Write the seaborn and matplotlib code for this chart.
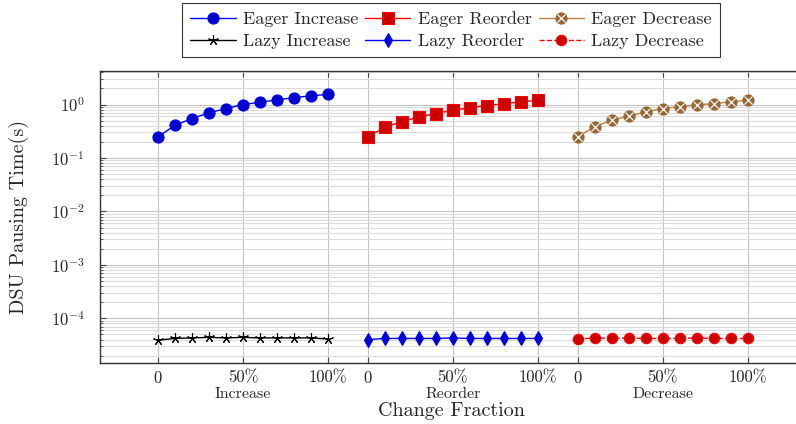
import matplotlib
matplotlib.use('Agg')
import matplotlib.pyplot as plt
import matplotlib.ticker as mticker
from matplotlib.transforms import blended_transform_factory
import pandas as pd
import seaborn as sns

# change fraction in percent, same for every group
fractions = [0, 10, 20, 30, 40, 50, 60, 70, 80, 90, 100]
groups = ['Increase', 'Reorder', 'Decrease']
tick_labels = ['0', '50%', '100%']

# pausing time in seconds
eager_increase = [0.248, 0.409, 0.546, 0.698, 0.841, 1.00, 1.10, 1.22, 1.34, 1.46, 1.54]
eager_reorder = [0.248, 0.375, 0.480, 0.578, 0.678, 0.782, 0.867, 0.957, 1.03, 1.12, 1.20]
eager_decrease = [0.248, 0.386, 0.508, 0.604, 0.730, 0.841, 0.906, 0.986, 1.04, 1.12, 1.20]
lazy_increase = [3.9e-5, 4.2e-5, 4.3e-5, 4.4e-5, 4.3e-5, 4.4e-5, 4.3e-5, 4.3e-5, 4.3e-5, 4.3e-5, 4.1e-5]
lazy_reorder = [4.0e-5, 4.2e-5, 4.2e-5, 4.2e-5, 4.2e-5, 4.3e-5, 4.2e-5, 4.2e-5, 4.2e-5, 4.2e-5, 4.2e-5]
lazy_decrease = [4.1e-5, 4.3e-5, 4.2e-5, 4.3e-5, 4.2e-5, 4.2e-5, 4.2e-5, 4.3e-5, 4.2e-5, 4.2e-5, 4.2e-5]

group_gap = 123.5  # distance between group origins, in x units

sns.set_theme(style='ticks')
plt.rcParams['font.family'] = 'serif'
plt.rcParams['font.serif'] = ['cmr10', 'DejaVu Serif']
plt.rcParams['mathtext.fontset'] = 'cm'
plt.rcParams['axes.formatter.use_mathtext'] = True
plt.rcParams['axes.unicode_minus'] = True

fig = plt.figure(figsize=(7.96, 4.24), dpi=100)
ax = fig.add_axes([100 / 796, (424 - 363.3) / 424, 702 / 796, 292.6 / 424])


def xs(g):
    return [f + g * group_gap for f in fractions]


series = [
    ('Eager Increase', eager_increase, 0, dict(color='#0000ff', marker='o', markersize=8,
                                              markerfacecolor='#0000cc', markeredgecolor='#0000ff')),
    ('Lazy Increase', lazy_increase, 0, dict(color='black', marker=(5, 2, 0), markersize=7.5,
                                            markeredgewidth=0.8, markeredgecolor='black')),
    ('Eager Reorder', eager_reorder, 1, dict(color='#ff0000', marker='s', markersize=8,
                                            markerfacecolor='#cc0000', markeredgecolor='#ff0000')),
    ('Lazy Reorder', lazy_reorder, 1, dict(color='#0000ff', marker='d', markersize=7,
                                          markerfacecolor='#0000cc', markeredgecolor='#0000ff')),
    ('Eager Decrease', eager_decrease, 2, dict(color='#bf8040', marker='o', markersize=8,
                                              markerfacecolor='#996633', markeredgecolor='#996633')),
    ('Lazy Decrease', lazy_decrease, 2, dict(color='#ff0000', marker='o', markersize=7.5, linestyle='--',
                                            markerfacecolor='#cc0000', markeredgecolor='#ff0000')),
]

handles = []
for name, vals, g, style in series:
    df = pd.DataFrame({'x': xs(g), 'y': vals})
    sns.lineplot(data=df, x='x', y='y', ax=ax, linewidth=1.0, markeredgewidth=style.pop('markeredgewidth', 0.8),
                 label=name, legend=False, **style)
    line = ax.lines[-1]
    if name == 'Eager Decrease':
        # pgfplots otimes*: cross drawn inside the filled circle
        sns.lineplot(data=df, x='x', y='y', ax=ax, linestyle='', marker='x', markersize=5.5,
                     markeredgewidth=0.9, color='#5e3b1c', legend=False)
        handles.append((line, ax.lines[-1]))
    else:
        handles.append(line)

ax.set_yscale('log')
ax.set_ylim(1.44e-5, 4.29)
ax.set_xlim(-34.1, 379.0)

major_x = [g * group_gap + v for g in range(3) for v in (0, 50, 100)]
ax.set_xticks(major_x)
ax.set_xticklabels(tick_labels * 3, fontsize=12)
ax.yaxis.set_major_locator(mticker.LogLocator(base=10, numticks=20))
ax.yaxis.set_minor_locator(mticker.LogLocator(base=10, subs=range(2, 10), numticks=20))
ax.yaxis.set_minor_formatter(mticker.NullFormatter())
ax.tick_params(axis='y', which='major', labelsize=12)

ax.grid(True, which='major', axis='both', color='#c4c4c4', linewidth=0.8)
ax.grid(True, which='minor', axis='y', color='#dcdcdc', linewidth=0.8)
ax.set_axisbelow(True)

ax.tick_params(which='both', direction='in', top=True, right=True, color='#444444')
ax.tick_params(which='major', length=4, width=0.8)
ax.tick_params(which='minor', length=2.5, width=0.6)
ax.tick_params(axis='x', which='major', pad=5)
ax.tick_params(axis='y', which='major', pad=11)
ax.tick_params(axis='x', which='minor', bottom=False, top=False)

for sp in ax.spines.values():
    sp.set_color('#333333')
    sp.set_linewidth(1.0)

trans = blended_transform_factory(ax.transData, ax.transAxes)
for g, name in enumerate(groups):
    ax.text(g * group_gap + 50, -0.105, name, transform=trans, ha='center', va='center', fontsize=11.5)

ax.set_xlabel('Change Fraction', fontsize=14.5)
ax.xaxis.set_label_coords(0.5, -0.132)
ax.set_ylabel('DSU Pausing Time(s)', fontsize=14.5)
ax.yaxis.set_label_coords(-0.101, 0.5)

labels = [s[0] for s in series]
leg = fig.legend(handles, labels, loc='upper center', bbox_to_anchor=(451 / 796, 1 - 3 / 424), ncol=3,
                 fontsize=13, frameon=True, fancybox=False, handlelength=2.5, handletextpad=0.4,
                 columnspacing=0.4, labelspacing=0.35, borderpad=0.45, borderaxespad=0)
leg.get_frame().set_edgecolor('black')
leg.get_frame().set_linewidth(0.8)

fig.savefig('out.png', dpi=100)
